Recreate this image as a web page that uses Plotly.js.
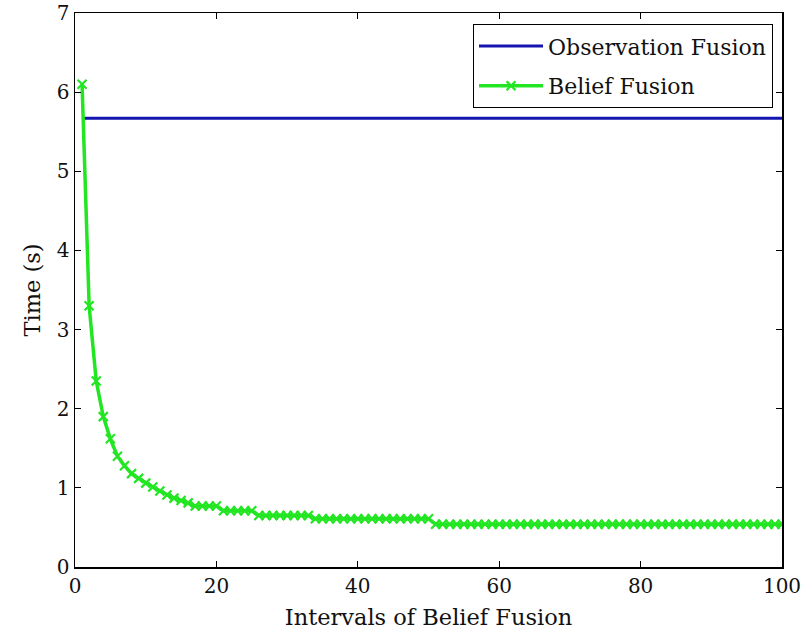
<!DOCTYPE html>
<html>
<head>
<meta charset="utf-8">
<script src="https://cdn.plot.ly/plotly-3.0.1.min.js"></script>
<style>html,body{margin:0;padding:0;background:#fff;}#chart{width:806px;height:636px;}</style>
</head>
<body>
<div id="chart"></div>
<script>
// Data
const intervals = Array.from({length: 100}, (_, i) => i + 1);
const observationFusion = [5.67];
const beliefFusion = [
  6.10, 3.30, 2.35, 1.90, 1.62, 1.40, 1.28, 1.18, 1.12, 1.06,
  1.01, 0.96, 0.91, 0.87, 0.84, 0.81, 0.77, 0.77, 0.77, 0.77,
  0.71, 0.71, 0.71, 0.71, 0.71, 0.65, 0.65, 0.65, 0.65, 0.65,
  0.65, 0.65, 0.65, 0.61, 0.61, 0.61, 0.61, 0.61, 0.61, 0.61,
  0.61, 0.61, 0.61, 0.61, 0.61, 0.61, 0.61, 0.61, 0.61, 0.61,
  0.54, 0.54, 0.54, 0.54, 0.54, 0.54, 0.54, 0.54, 0.54, 0.54,
  0.54, 0.54, 0.54, 0.54, 0.54, 0.54, 0.54, 0.54, 0.54, 0.54,
  0.54, 0.54, 0.54, 0.54, 0.54, 0.54, 0.54, 0.54, 0.54, 0.54,
  0.54, 0.54, 0.54, 0.54, 0.54, 0.54, 0.54, 0.54, 0.54, 0.54,
  0.54, 0.54, 0.54, 0.54, 0.54, 0.54, 0.54, 0.54, 0.54, 0.54
];
const xTicks = [0, 20, 40, 60, 80, 100];
const yTicks = [0, 1, 2, 3, 4, 5, 6, 7];

const font = 'DejaVu Serif, Liberation Serif, serif';

const traces = [
  {
    x: [intervals[0], intervals[intervals.length - 1]],
    y: [observationFusion[0], observationFusion[0]],
    mode: 'lines',
    name: 'Observation Fusion',
    legendgroup: 'obs',
    line: {color: '#1414b0', width: 3}
  },
  {
    x: intervals,
    y: beliefFusion,
    mode: 'lines+markers',
    name: 'Belief Fusion',
    legendgroup: 'belief',
    line: {color: '#22e622', width: 3.5},
    marker: {symbol: 'x-thin', size: 9, line: {color: '#22e622', width: 2.2}, color: '#22e622'}
  }
];

const axisCommon = {
  showline: true, linecolor: '#000', linewidth: 1.5, mirror: 'allticks',
  ticks: 'inside', ticklen: 6, tickcolor: '#000', tickwidth: 1.2,
  showgrid: false, zeroline: false,
  tickfont: {family: font, size: 20, color: '#111'}
};

const layout = {
  width: 806, height: 636,
  margin: {l: 75, r: 24, t: 13, b: 69},
  paper_bgcolor: '#fff', plot_bgcolor: '#fff',
  showlegend: true,
  xaxis: Object.assign({}, axisCommon, {
    range: [0, 100], tickvals: xTicks, ticktext: xTicks.map(String),
    title: {text: 'Intervals of Belief Fusion', font: {family: font, size: 22.5, color: '#111'}, standoff: 12}
  }),
  yaxis: Object.assign({}, axisCommon, {
    range: [0, 7], tickvals: yTicks, ticktext: yTicks.map(String),
    title: {text: 'Time (s)', font: {family: font, size: 22.5, color: '#111'}, standoff: 10}
  }),
  legend: {
    x: 0.987, xanchor: 'right', y: 0.98, yanchor: 'top',
    bgcolor: '#fff', bordercolor: '#000', borderwidth: 1.2,
    font: {family: font, size: 22, color: '#111'},
    itemwidth: 64, tracegroupgap: 8, traceorder: 'grouped'
  }
};

Plotly.newPlot('chart', traces, layout, {displayModeBar: false, staticPlot: true});
</script>
</body>
</html>
